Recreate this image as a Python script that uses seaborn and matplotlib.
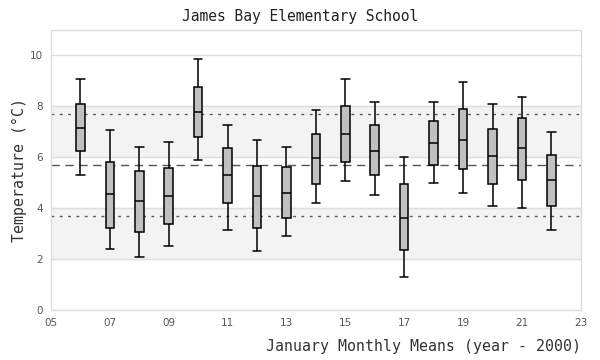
import numpy as np
import pandas as pd
import seaborn as sns
import matplotlib
matplotlib.use('Agg')
import matplotlib.pyplot as plt

# five-number summaries, January means per year
years = [6, 7, 8, 9, 10, 11, 12, 13, 14, 15, 16, 17, 18, 19, 20, 21, 22]
whisker_low = [5.29, 2.38, 2.07, 2.50, 5.87, 3.16, 2.30, 2.89, 4.20, 5.08, 4.50, 1.28, 4.97, 4.58, 4.07, 3.99, 3.16]
q1 = [6.26, 3.23, 3.05, 3.36, 6.78, 4.20, 3.23, 3.60, 4.94, 5.83, 5.29, 2.34, 5.69, 5.52, 4.93, 5.12, 4.10]
median = [7.16, 4.55, 4.26, 4.46, 7.79, 5.29, 4.46, 4.59, 5.95, 6.93, 6.26, 3.63, 6.54, 6.69, 6.04, 6.35, 5.12]
q3 = [8.07, 5.83, 5.44, 5.56, 8.77, 6.38, 5.67, 5.60, 6.93, 8.03, 7.28, 4.93, 7.44, 7.91, 7.12, 7.52, 6.10]
whisker_high = [9.07, 7.08, 6.39, 6.58, 9.87, 7.28, 6.69, 6.39, 7.87, 9.08, 8.18, 5.99, 8.18, 8.97, 8.07, 8.38, 6.97]

overall_mean = 5.69
band_upper = 7.69
band_lower = 3.69

x_ticks = [5, 7, 9, 11, 13, 15, 17, 19, 21, 23]
x_tick_labels = ['05', '07', '09', '11', '13', '15', '17', '19', '21', '23']
y_ticks = [0, 2, 4, 6, 8, 10]

# build long-form table: 5 points per year reproduce the summary exactly
rows = []
for i, y in enumerate(years):
    for v in [whisker_low[i], q1[i], median[i], q3[i], whisker_high[i]]:
        rows.append({'year': y, 'temp': v})
df = pd.DataFrame(rows)

sns.set_style('white')
mono = ['DejaVu Sans Mono']

fig = plt.figure(figsize=(6, 3.6), dpi=100)
ax = fig.add_axes([0.085, 0.139, 0.883, 0.778])

# alternating bands and grid
for lo in [2, 6]:
    ax.axhspan(lo, lo + 2, color='#f3f3f3', zorder=0)
for t in y_ticks:
    ax.axhline(t, color='#dddddd', lw=1, zorder=0.5)

ax.axhline(overall_mean, color='#555555', lw=1, ls=(0, (6, 4)), zorder=1)
ax.axhline(band_upper, color='#555555', lw=1, ls=(0, (2, 4)), zorder=1)
ax.axhline(band_lower, color='#555555', lw=1, ls=(0, (2, 4)), zorder=1)

sns.boxplot(data=df, x='year', y='temp', native_scale=True, width=0.29,
            whis=(0, 100), color='#c0c0c0', saturation=1, linecolor='black',
            linewidth=1.1, fill=True, showfliers=False, capwidths=0.29,
            ax=ax, zorder=3)

ax.set_xlim(5, 23)
ax.set_ylim(0, 11)
ax.set_xticks(x_ticks)
ax.set_xticklabels(x_tick_labels)
ax.set_yticks(y_ticks)
ax.tick_params(axis='both', length=0, labelsize=7.5, labelcolor='#555555', pad=6)

for s in ax.spines.values():
    s.set_color('#dddddd')
    s.set_linewidth(1)
    s.set_visible(True)

ax.set_xlabel('January Monthly Means (year - 2000)', family=mono, fontsize=10.7,
              color='#333333', ha='right', x=1.0, labelpad=8)
ax.set_ylabel('Temperature (°C)', family=mono, fontsize=10.7, color='#333333', labelpad=2)
fig.suptitle('James Bay Elementary School', family=mono, fontsize=10.5, color='#222222', y=0.975)

fig.savefig('out.png', dpi=100)
